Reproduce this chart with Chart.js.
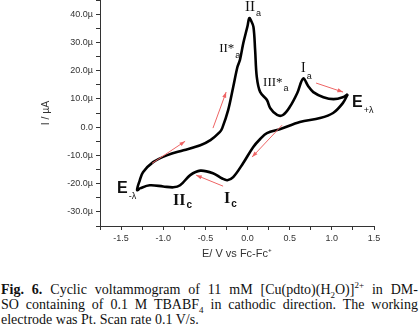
<!DOCTYPE html>
<html>
<head>
<meta charset="utf-8">
<script src="https://cdn.jsdelivr.net/npm/chart.js@4"></script>
<style>
body { margin: 0; background: #fff; }
#wrap { position: relative; width: 420px; height: 325px; overflow: hidden; }
#chart { position: absolute; left: 0; top: 0; }
#caption { position: absolute; left: 1px; top: 282px; width: 417px; font-family: "Liberation Serif", serif; font-size: 14px; line-height: 15px; color: #111; }
#caption div { white-space: nowrap; }
#caption .j { text-align: justify; text-align-last: justify; white-space: normal; }
#caption sub, #caption sup { font-size: 9px; line-height: 0; }
</style>
</head>
<body>
<div id="wrap">
<canvas id="chart" width="420" height="270" style="width:420px;height:270px"></canvas>
<div id="caption">
<div class="j"><b>Fig. 6.</b> Cyclic voltammogram of 11 mM [Cu(pdto)(H<sub>2</sub>O)]<sup>2+</sup> in DM-</div>
<div class="j">SO containing of 0.1 M TBABF<sub>4</sub> in cathodic direction. The working</div>
<div>electrode was Pt. Scan rate 0.1 V/s.</div>
</div>
</div>
<script>
// potential (V vs Fc-Fc+) and current (uA)
// cathodic sweep: E+lambda -> E-lambda
var cathodicE = [1.19, 1.13, 1.015, 0.86, 0.62, 0.39, 0.23, 0.15, 0.066, -0.053, -0.17, -0.24, -0.30, -0.41, -0.56, -0.68, -0.80, -0.88, -1.0, -1.16, -1.27, -1.31];
var cathodicI = [11.7, 8.5, 5.0, 3.2, 1.8, -0.7, -2.1, -4.2, -7.1, -12.8, -17.7, -18.8, -18.2, -16.3, -15.4, -17.0, -20.6, -21.3, -21.0, -20.6, -21.6, -22.3];
// anodic sweep: E-lambda -> E+lambda
var anodicE = [-1.31, -1.28, -1.24, -1.12, -0.95, -0.76, -0.56, -0.44, -0.33, -0.30, -0.23, -0.17, -0.12, -0.09, -0.05, 0.0, 0.02, 0.04, 0.07, 0.09, 0.11, 0.15, 0.23, 0.27, 0.35, 0.42, 0.50, 0.59, 0.66, 0.72, 0.78, 0.90, 1.02, 1.13, 1.19];
var anodicI = [-22.3, -19.0, -16.0, -12.4, -9.9, -8.2, -6.4, -4.6, -1.8, -0.35, 6.0, 14.2, 21.3, 23.8, 29.8, 35.8, 38.6, 37.8, 35.5, 27.3, 17.7, 12.4, 9.6, 6.7, 4.3, 4.3, 7.1, 12.1, 17.2, 14.5, 12.4, 10.6, 9.9, 10.6, 11.7];

var xLabelTicks = [-1.5, -1.0, -0.5, 0.0, 0.5, 1.0, 1.5];
var yLabelTicks = [-30, -20, -10, 0, 10, 20, 30, 40];

var points = [];
for (var i = 0; i < cathodicE.length; i++) points.push({x: cathodicE[i], y: cathodicI[i]});
for (var j = 1; j < anodicE.length; j++) points.push({x: anodicE[j], y: anodicI[j]});

// scan direction arrows [E0, I0, E1, I1]
var arrows = [
    [-1.132, -12.8, -0.74, -5.0],
    [-0.41, -0.35, -0.254, 12.4],
    [0.813, 15.6, 1.133, 12.4],
    [0.41, 0.7, 0.054, -10.6],
    [-0.29, -20.9, -0.61, -17.0]
];

var serif = '"Liberation Serif", serif';
var sans = '"Liberation Sans", Arial, sans-serif';
var peakLabels = [
    {main: 'II', sub: 'a', e: -0.029, i: 41.1, font: '15px ' + serif, subFont: '9px ' + sans, drop: 5},
    {main: 'II*', sub: 'a', e: -0.337, i: 26.6, font: '13px ' + serif, subFont: '9px ' + sans, drop: 6},
    {main: 'III*', sub: 'a', e: 0.184, i: 14.5, font: '13px ' + serif, subFont: '9px ' + sans, drop: 5},
    {main: 'I', sub: 'a', e: 0.635, i: 19.5, font: '14px ' + serif, subFont: '9px ' + sans, drop: 7},
    {main: 'E', sub: '+\u03bb', e: 1.24, i: 7.1, font: 'bold 16px ' + sans, subFont: '9px ' + sans, drop: 6},
    {main: 'E', sub: '-\u03bb', e: -1.547, i: -23.4, font: 'bold 16px ' + sans, subFont: '9px ' + sans, drop: 6},
    {main: 'II', sub: 'c', e: -0.883, i: -27.7, font: 'bold 16px ' + serif, subFont: 'bold 10px ' + sans, drop: 3},
    {main: 'I', sub: 'c', e: -0.278, i: -27.0, font: 'bold 16px ' + serif, subFont: 'bold 10px ' + sans, drop: 4}
];

var annot = {
    id: 'annot',
    afterDatasetsDraw: function(chart) {
        var ctx = chart.ctx, xs = chart.scales.x, ys = chart.scales.y;
        ctx.save();
        ctx.strokeStyle = '#ee6464';
        ctx.fillStyle = '#ee6464';
        ctx.lineWidth = 1;
        arrows.forEach(function(a) {
            var x0 = xs.getPixelForValue(a[0]), y0 = ys.getPixelForValue(a[1]);
            var x1 = xs.getPixelForValue(a[2]), y1 = ys.getPixelForValue(a[3]);
            ctx.beginPath();
            ctx.moveTo(x0, y0);
            ctx.lineTo(x1, y1);
            ctx.stroke();
            var ang = Math.atan2(y1 - y0, x1 - x0);
            ctx.beginPath();
            ctx.moveTo(x1, y1);
            ctx.lineTo(x1 - 6 * Math.cos(ang - 0.35), y1 - 6 * Math.sin(ang - 0.35));
            ctx.lineTo(x1 - 6 * Math.cos(ang + 0.35), y1 - 6 * Math.sin(ang + 0.35));
            ctx.closePath();
            ctx.fill();
        });
        ctx.fillStyle = '#111';
        ctx.textAlign = 'left';
        ctx.textBaseline = 'alphabetic';
        peakLabels.forEach(function(l) {
            var px = xs.getPixelForValue(l.e), py = ys.getPixelForValue(l.i);
            ctx.font = l.font;
            ctx.fillText(l.main, px, py);
            var w = ctx.measureText(l.main).width;
            ctx.font = l.subFont;
            ctx.fillText(l.sub, px + w + 1, py + l.drop);
        });
        ctx.restore();
    }
};

function isOn(list, v) {
    return list.some(function(t) { return Math.abs(t - v) < 1e-6; });
}

var ctx = document.getElementById('chart').getContext('2d');
var myChart = new Chart(ctx, {
    type: 'scatter',
    data: {
        datasets: [{
            data: points,
            showLine: true,
            borderColor: '#000',
            borderWidth: 2.6,
            pointRadius: 0,
            tension: 0.35,
            fill: false
        }]
    },
    options: {
        responsive: false,
        animation: false,
        layout: { padding: { top: 0, right: 46, bottom: 9, left: 0 } },
        plugins: { legend: { display: false }, tooltip: { enabled: false } },
        scales: {
            x: {
                type: 'linear',
                min: -1.75,
                max: 1.5,
                afterFit: function(s) { s.height = 35; s.paddingLeft = 0; s.paddingRight = 0; },
                ticks: {
                    stepSize: 0.25,
                    autoSkip: false,
                    maxRotation: 0,
                    color: '#333',
                    font: { family: 'Liberation Sans', size: 9 },
                    padding: 3,
                    callback: function(v) { return isOn(xLabelTicks, v) ? v.toFixed(1) : ''; }
                },
                grid: { drawOnChartArea: false, tickLength: 4, color: '#333' },
                border: { color: '#333', width: 1 },
                title: {
                    display: true,
                    text: 'E/ V vs Fc-Fc\u207a',
                    color: '#333',
                    font: { family: 'Liberation Sans', size: 11 },
                    padding: 0
                }
            },
            y: {
                type: 'linear',
                min: -35,
                max: 45,
                afterFit: function(s) { s.width = 100; s.paddingTop = 0; s.paddingBottom = 0; },
                ticks: {
                    stepSize: 5,
                    autoSkip: false,
                    color: '#333',
                    font: { family: 'Liberation Sans', size: 9 },
                    padding: 3,
                    callback: function(v) {
                        if (!isOn(yLabelTicks, v)) return '';
                        return v === 0 ? '0.0' : v.toFixed(1) + '\u00b5';
                    }
                },
                grid: { drawOnChartArea: false, tickLength: 4, color: '#333' },
                border: { color: '#333', width: 1 },
                title: {
                    display: true,
                    text: 'I / \u00b5A',
                    color: '#333',
                    font: { family: 'Liberation Sans', size: 10.5 },
                    padding: { top: 40, bottom: 0 }
                }
            }
        }
    },
    plugins: [annot]
});
</script>
</body>
</html>
